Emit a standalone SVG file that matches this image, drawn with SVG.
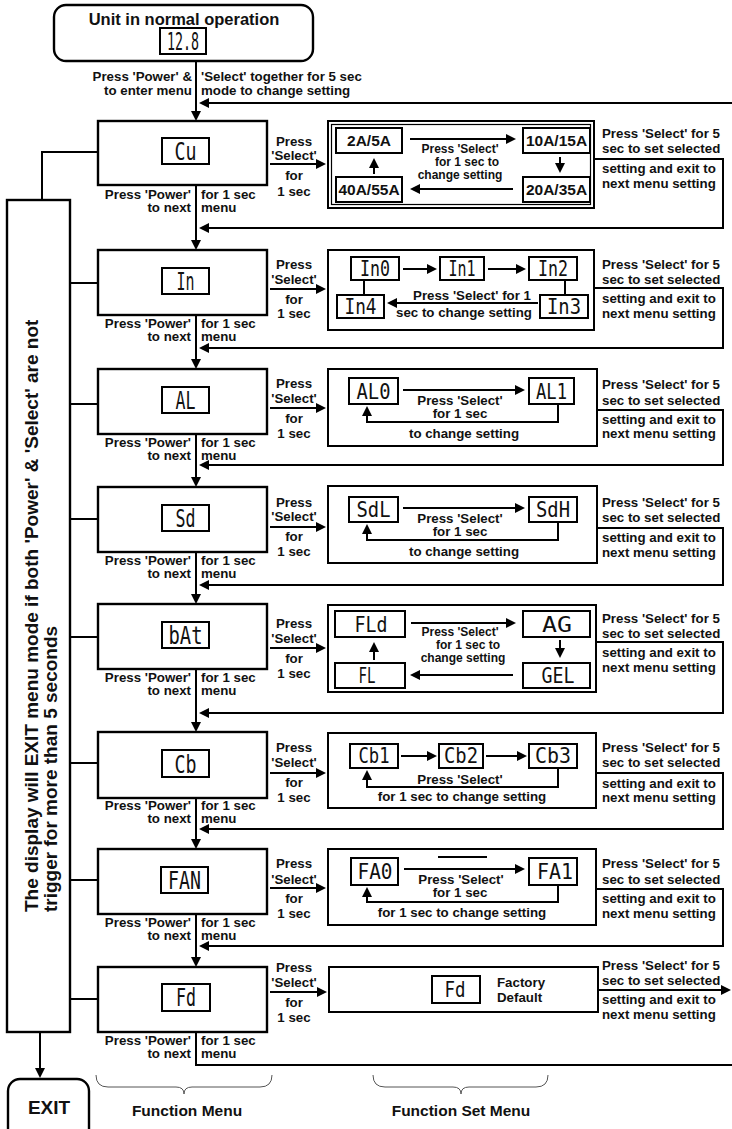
<svg xmlns="http://www.w3.org/2000/svg" width="732" height="1129" viewBox="0 0 732 1129">
<defs>
<marker id="ah" markerWidth="10" markerHeight="10" refX="8" refY="5" orient="auto" markerUnits="userSpaceOnUse"><path d="M0,0 L10,5 L0,10 z" fill="#000"/></marker>
<style>
.bx{fill:#fff;stroke:#000;stroke-width:2.4}
.sb{fill:#fff;stroke:#000;stroke-width:2}
.ib{fill:#fff;stroke:#000;stroke-width:2}
.ln{fill:none;stroke:#000;stroke-width:2}
.thin{fill:none;stroke:#555;stroke-width:1}
.ar{marker-end:url(#ah)}
text{font-family:"Liberation Sans",Arial,sans-serif;font-weight:bold;fill:#111}
.t{font-size:13.3px}
.s{font-size:12px}
.m{text-anchor:middle}
.e{text-anchor:end}
.big{font-size:19px}
.val{font-size:15.5px;text-anchor:middle}
.seg{font-family:"DejaVu Sans Mono",monospace;font-weight:normal;font-size:24px;text-anchor:middle}
.seg2{font-family:"DejaVu Sans Mono",monospace;font-weight:normal;font-size:21px;text-anchor:middle}
</style>
</defs>
<rect width="732" height="1129" fill="#fff"/>

<g id="connectors">
<path class="ln ar" d="M196,61 V119"/>
<path class="ln ar" d="M732,103 H201"/>
<path class="ln ar" d="M196,185 V248"/>
<path class="ln ar" d="M196,315 V367"/>
<path class="ln ar" d="M196,434 V485"/>
<path class="ln ar" d="M196,552 V602"/>
<path class="ln ar" d="M196,669 V730"/>
<path class="ln ar" d="M196,798 V847"/>
<path class="ln ar" d="M196,914 V965"/>
<path class="ln" d="M196,1032 V1065 H732"/>
<path class="ln ar" d="M594,159 H723 V228 H201"/>
<path class="ln ar" d="M594,288 H723 V348 H201"/>
<path class="ln ar" d="M597,410 H723 V465 H201"/>
<path class="ln ar" d="M597,528 H723 V585 H201"/>
<path class="ln ar" d="M596,642 H723 V713 H201"/>
<path class="ln ar" d="M596,773 H723 V829 H201"/>
<path class="ln ar" d="M596,889 H723 V946 H201"/>
<path class="ln ar" d="M598,990 H729"/>
<path class="ln ar" d="M270,164 H324"/>
<path class="ln ar" d="M270,289 H324"/>
<path class="ln ar" d="M270,408 H324"/>
<path class="ln ar" d="M270,527 H324"/>
<path class="ln ar" d="M270,648 H324"/>
<path class="ln ar" d="M270,773 H324"/>
<path class="ln ar" d="M270,888 H324"/>
<path class="ln ar" d="M270,992 H325"/>
<path class="ln" d="M98,152 H42 V200"/>
<path class="ln" d="M70,283 H98 M70,404 H98 M70,519 H98 M70,637 H98 M70,763 H98 M70,880 H98 M70,999 H98"/>
<path class="ln ar" d="M40,1032 V1076"/>
</g>

<g id="start">
<rect x="54" y="5" width="259" height="56" rx="12" class="bx"/>
<text x="184" y="25" class="m" style="font-size:16.5px">Unit in normal operation</text>
<rect x="160" y="28" width="46" height="26" class="ib"/>
<text x="183" y="50" class="seg" textLength="32" lengthAdjust="spacingAndGlyphs">12.8</text>
<text x="192" y="80.5" class="t e">Press 'Power' &amp;</text>
<text x="192" y="94.5" class="t e">to enter menu</text>
<text x="201" y="80.5" class="t">'Select' together for 5 sec</text>
<text x="201" y="94.5" class="t">mode to change setting</text>
</g>

<g id="exit-note">
<rect x="7" y="200" width="63" height="832" class="bx"/>
<text transform="translate(38,912) rotate(-90)" class="big">The display will EXIT menu mode if both 'Power' &amp; 'Select' are not</text>
<text transform="translate(57,912) rotate(-90)" class="big">trigger for more than 5 seconds</text>
</g>

<g id="exit">
<rect x="8" y="1079" width="81" height="70" rx="12" class="bx"/>
<text x="49" y="1114" class="m" style="font-size:19px">EXIT</text>
</g>

<!-- Menu: Cu -->
<g id="menu-cu">
<rect x="98" y="121" width="169" height="64" class="bx"/>
<rect x="162" y="138" width="47" height="26" class="ib"/>
<text x="185.5" y="160" class="seg" textLength="22" lengthAdjust="spacingAndGlyphs">Cu</text>
<text x="191" y="198.5" class="t e">Press 'Power'</text>
<text x="191" y="211.5" class="t e">to next</text>
<text x="201" y="198.5" class="t">for 1 sec</text>
<text x="201" y="211.5" class="t">menu</text>
<text x="294" y="145.5" class="t m">Press</text>
<text x="294" y="159.5" class="t m">'Select'</text>
<text x="294" y="179.5" class="t m">for</text>
<text x="294" y="195.5" class="t m">1 sec</text>
</g>
<g id="set-cu">
<rect x="328" y="121" width="266" height="87" class="sb"/>
<rect x="331.5" y="124.5" width="259" height="80" fill="none" stroke="#000" stroke-width="1.2"/>
<rect x="336" y="128" width="66" height="25" class="ib"/>
<text x="369" y="146" class="val">2A/5A</text>
<rect x="523" y="128" width="67" height="25" class="ib"/>
<text x="556.5" y="146" class="val">10A/15A</text>
<rect x="523" y="177" width="67" height="25" class="ib"/>
<text x="556.5" y="195" class="val">20A/35A</text>
<rect x="336" y="177" width="66" height="25" class="ib"/>
<text x="369" y="195" class="val">40A/55A</text>
<path class="ln ar" d="M410,139 H514"/>
<path class="ln ar" d="M560,157 V171"/>
<path class="ln ar" d="M513,189 H412"/>
<path class="ln ar" d="M374,174 V160"/>
<text x="460" y="152.5" class="s m">Press 'Select'</text>
<text x="467" y="165.5" class="s m">for 1 sec to</text>
<text x="460" y="178.5" class="s m">change setting</text>
<text x="602" y="137.5" class="t">Press 'Select' for 5</text>
<text x="602" y="152.5" class="t">sec to set selected</text>
<text x="602" y="172.5" class="t">setting and exit to</text>
<text x="602" y="187.5" class="t">next menu setting</text>
</g>

<!-- Menu: In -->
<g id="menu-in">
<rect x="98" y="250" width="169" height="65" class="bx"/>
<rect x="162" y="268" width="47" height="26" class="ib"/>
<text x="185.5" y="290" class="seg" textLength="18" lengthAdjust="spacingAndGlyphs">In</text>
<text x="191" y="327.5" class="t e">Press 'Power'</text>
<text x="191" y="340.5" class="t e">to next</text>
<text x="201" y="327.5" class="t">for 1 sec</text>
<text x="201" y="340.5" class="t">menu</text>
<text x="294" y="268.5" class="t m">Press</text>
<text x="294" y="283.5" class="t m">'Select'</text>
<text x="294" y="303.5" class="t m">for</text>
<text x="294" y="317.5" class="t m">1 sec</text>
</g>
<g id="set-in">
<rect x="328" y="250" width="266" height="80" class="sb"/>
<rect x="351" y="257" width="48" height="23" class="ib"/>
<text x="375" y="276" class="seg2" textLength="30" lengthAdjust="spacingAndGlyphs">In0</text>
<rect x="440" y="257" width="44" height="23" class="ib"/>
<text x="462" y="276" class="seg2" textLength="27" lengthAdjust="spacingAndGlyphs">In1</text>
<rect x="529" y="257" width="48" height="23" class="ib"/>
<text x="553" y="276" class="seg2" textLength="30" lengthAdjust="spacingAndGlyphs">In2</text>
<rect x="337" y="295" width="47" height="23" class="ib"/>
<text x="360.5" y="314" class="seg2" textLength="32" lengthAdjust="spacingAndGlyphs">In4</text>
<rect x="540" y="295" width="48" height="23" class="ib"/>
<text x="564" y="314" class="seg2" textLength="34" lengthAdjust="spacingAndGlyphs">In3</text>
<path class="ln" d="M364,280 V295 M565,280 V295"/>
<path class="ln ar" d="M403,269 H435"/>
<path class="ln ar" d="M488,269 H524"/>
<path class="ln ar" d="M538,303 H389"/>
<text x="472" y="300" class="t m">Press 'Select' for 1</text>
<text x="464" y="316.5" class="t m">sec to change setting</text>
<text x="602" y="268.5" class="t">Press 'Select' for 5</text>
<text x="602" y="283.5" class="t">sec to set selected</text>
<text x="602" y="302.5" class="t">setting and exit to</text>
<text x="602" y="317.5" class="t">next menu setting</text>
</g>

<!-- Menu: AL -->
<g id="menu-al">
<rect x="98" y="369" width="169" height="65" class="bx"/>
<rect x="162" y="387" width="47" height="26" class="ib"/>
<text x="185.5" y="409" class="seg" textLength="20" lengthAdjust="spacingAndGlyphs">AL</text>
<text x="191" y="446.5" class="t e">Press 'Power'</text>
<text x="191" y="459.5" class="t e">to next</text>
<text x="201" y="446.5" class="t">for 1 sec</text>
<text x="201" y="459.5" class="t">menu</text>
<text x="294" y="387.5" class="t m">Press</text>
<text x="294" y="402.5" class="t m">'Select'</text>
<text x="294" y="422.5" class="t m">for</text>
<text x="294" y="437.5" class="t m">1 sec</text>
</g>
<g id="set-al">
<rect x="328" y="369" width="269" height="77" class="sb"/>
<rect x="349" y="378" width="49" height="26" class="ib"/>
<text x="373.5" y="399" class="seg2" textLength="34" lengthAdjust="spacingAndGlyphs">AL0</text>
<rect x="529" y="378" width="45" height="26" class="ib"/>
<text x="551.5" y="399" class="seg2" textLength="31" lengthAdjust="spacingAndGlyphs">AL1</text>
<path class="ln ar" d="M403,390 H523"/>
<path class="ln ar" d="M558,404 V422 H367 V408"/>
<text x="460" y="404.5" class="t m">Press 'Select'</text>
<text x="460" y="417.5" class="t m">for 1 sec</text>
<text x="464" y="437.5" class="t m">to change setting</text>
<text x="602" y="388.5" class="t">Press 'Select' for 5</text>
<text x="602" y="404.5" class="t">sec to set selected</text>
<text x="602" y="423.5" class="t">setting and exit to</text>
<text x="602" y="437.5" class="t">next menu setting</text>
</g>

<!-- Menu: Sd -->
<g id="menu-sd">
<rect x="98" y="487" width="169" height="65" class="bx"/>
<rect x="162" y="505" width="47" height="26" class="ib"/>
<text x="185.5" y="527" class="seg" textLength="20" lengthAdjust="spacingAndGlyphs">Sd</text>
<text x="191" y="564.5" class="t e">Press 'Power'</text>
<text x="191" y="577.5" class="t e">to next</text>
<text x="201" y="564.5" class="t">for 1 sec</text>
<text x="201" y="577.5" class="t">menu</text>
<text x="294" y="506.5" class="t m">Press</text>
<text x="294" y="520.5" class="t m">'Select'</text>
<text x="294" y="540.5" class="t m">for</text>
<text x="294" y="555.5" class="t m">1 sec</text>
</g>
<g id="set-sd">
<rect x="328" y="486" width="269" height="77" class="sb"/>
<rect x="349" y="497" width="49" height="25" class="ib"/>
<text x="373.5" y="517" class="seg2" textLength="34" lengthAdjust="spacingAndGlyphs">SdL</text>
<rect x="529" y="497" width="48" height="25" class="ib"/>
<text x="553" y="517" class="seg2" textLength="34" lengthAdjust="spacingAndGlyphs">SdH</text>
<path class="ln ar" d="M403,508 H523"/>
<path class="ln ar" d="M558,522 V540 H367 V526"/>
<text x="460" y="522.5" class="t m">Press 'Select'</text>
<text x="460" y="535.5" class="t m">for 1 sec</text>
<text x="464" y="555.5" class="t m">to change setting</text>
<text x="602" y="506.5" class="t">Press 'Select' for 5</text>
<text x="602" y="521.5" class="t">sec to set selected</text>
<text x="602" y="541.5" class="t">setting and exit to</text>
<text x="602" y="556.5" class="t">next menu setting</text>
</g>

<!-- Menu: bAt -->
<g id="menu-bat">
<rect x="98" y="604" width="169" height="65" class="bx"/>
<rect x="162" y="622" width="47" height="26" class="ib"/>
<text x="185.5" y="644" class="seg" textLength="34" lengthAdjust="spacingAndGlyphs">bAt</text>
<text x="191" y="681.5" class="t e">Press 'Power'</text>
<text x="191" y="694.5" class="t e">to next</text>
<text x="201" y="681.5" class="t">for 1 sec</text>
<text x="201" y="694.5" class="t">menu</text>
<text x="294" y="627.5" class="t m">Press</text>
<text x="294" y="642.5" class="t m">'Select'</text>
<text x="294" y="662.5" class="t m">for</text>
<text x="294" y="677.5" class="t m">1 sec</text>
</g>
<g id="set-bat">
<rect x="328" y="605" width="268" height="87" class="sb"/>
<rect x="335" y="611" width="70" height="26" class="ib"/>
<text x="371" y="632" class="seg2" textLength="33" lengthAdjust="spacingAndGlyphs">FLd</text>
<rect x="523" y="611" width="67" height="26" class="ib"/>
<text x="557" y="632" class="seg2" textLength="30" lengthAdjust="spacingAndGlyphs">AG</text>
<rect x="523" y="663" width="67" height="25" class="ib"/>
<text x="558" y="683" class="seg2" textLength="33" lengthAdjust="spacingAndGlyphs">GEL</text>
<rect x="335" y="663" width="70" height="25" class="ib"/>
<text x="367" y="683" class="seg2" textLength="17" lengthAdjust="spacingAndGlyphs">FL</text>
<path class="ln ar" d="M411,623 H514"/>
<path class="ln ar" d="M560,640 V656"/>
<path class="ln ar" d="M513,675 H412"/>
<path class="ln ar" d="M374,660 V644"/>
<text x="460" y="636" class="s m">Press 'Select'</text>
<text x="468" y="649" class="s m">for 1 sec to</text>
<text x="463" y="662" class="s m">change setting</text>
<text x="602" y="622.5" class="t">Press 'Select' for 5</text>
<text x="602" y="637.5" class="t">sec to set selected</text>
<text x="602" y="656.5" class="t">setting and exit to</text>
<text x="602" y="671.5" class="t">next menu setting</text>
</g>

<!-- Menu: Cb -->
<g id="menu-cb">
<rect x="98" y="732" width="169" height="66" class="bx"/>
<rect x="162" y="750" width="47" height="27" class="ib"/>
<text x="185.5" y="773" class="seg" textLength="22" lengthAdjust="spacingAndGlyphs">Cb</text>
<text x="191" y="809.5" class="t e">Press 'Power'</text>
<text x="191" y="822.5" class="t e">to next</text>
<text x="201" y="809.5" class="t">for 1 sec</text>
<text x="201" y="822.5" class="t">menu</text>
<text x="294" y="751.5" class="t m">Press</text>
<text x="294" y="766.5" class="t m">'Select'</text>
<text x="294" y="786.5" class="t m">for</text>
<text x="294" y="801.5" class="t m">1 sec</text>
</g>
<g id="set-cb">
<rect x="328" y="733" width="268" height="75" class="sb"/>
<rect x="350" y="744" width="48" height="24" class="ib"/>
<text x="374" y="763" class="seg2" textLength="31" lengthAdjust="spacingAndGlyphs">Cb1</text>
<rect x="439" y="744" width="44" height="24" class="ib"/>
<text x="461" y="763" class="seg2" textLength="34" lengthAdjust="spacingAndGlyphs">Cb2</text>
<rect x="529" y="744" width="48" height="24" class="ib"/>
<text x="553" y="763" class="seg2" textLength="36" lengthAdjust="spacingAndGlyphs">Cb3</text>
<path class="ln ar" d="M401,756 H435"/>
<path class="ln ar" d="M486,756 H525"/>
<path class="ln ar" d="M558,768 V787 H367 V772"/>
<text x="460" y="783.5" class="t m">Press 'Select'</text>
<text x="462" y="800.5" class="t m">for 1 sec to change setting</text>
<text x="602" y="751.5" class="t">Press 'Select' for 5</text>
<text x="602" y="766.5" class="t">sec to set selected</text>
<text x="602" y="787.5" class="t">setting and exit to</text>
<text x="602" y="801.5" class="t">next menu setting</text>
</g>

<!-- Menu: FAN -->
<g id="menu-fan">
<rect x="98" y="849" width="169" height="65" class="bx"/>
<rect x="161" y="867" width="47" height="26" class="ib"/>
<text x="184.5" y="889" class="seg" textLength="33" lengthAdjust="spacingAndGlyphs">FAN</text>
<text x="191" y="926.5" class="t e">Press 'Power'</text>
<text x="191" y="939.5" class="t e">to next</text>
<text x="201" y="926.5" class="t">for 1 sec</text>
<text x="201" y="939.5" class="t">menu</text>
<text x="294" y="867.5" class="t m">Press</text>
<text x="294" y="883.5" class="t m">'Select'</text>
<text x="294" y="902.5" class="t m">for</text>
<text x="294" y="917.5" class="t m">1 sec</text>
</g>
<g id="set-fan">
<rect x="328" y="849" width="268" height="76" class="sb"/>
<rect x="351" y="858" width="47" height="27" class="ib"/>
<text x="375" y="879" class="seg2" textLength="35" lengthAdjust="spacingAndGlyphs">FA0</text>
<rect x="529" y="858" width="48" height="27" class="ib"/>
<text x="555" y="879" class="seg2" textLength="36" lengthAdjust="spacingAndGlyphs">FA1</text>
<path class="ln" d="M438,857 H487"/>
<path class="ln ar" d="M404,869 H523"/>
<path class="ln ar" d="M558,885 V902 H367 V889"/>
<text x="461" y="883.5" class="t m">Press 'Select'</text>
<text x="460" y="896.5" class="t m">for 1 sec</text>
<text x="462" y="916.5" class="t m">for 1 sec to change setting</text>
<text x="602" y="867.5" class="t">Press 'Select' for 5</text>
<text x="602" y="883.5" class="t">sec to set selected</text>
<text x="602" y="902.5" class="t">setting and exit to</text>
<text x="602" y="917.5" class="t">next menu setting</text>
</g>

<!-- Menu: Fd -->
<g id="menu-fd">
<rect x="98" y="967" width="169" height="65" class="bx"/>
<rect x="162" y="984" width="48" height="27" class="ib"/>
<text x="186" y="1006" class="seg" textLength="20" lengthAdjust="spacingAndGlyphs">Fd</text>
<text x="191" y="1044.5" class="t e">Press 'Power'</text>
<text x="191" y="1057.5" class="t e">to next</text>
<text x="201" y="1044.5" class="t">for 1 sec</text>
<text x="201" y="1057.5" class="t">menu</text>
<text x="294" y="971.5" class="t m">Press</text>
<text x="294" y="986.5" class="t m">'Select'</text>
<text x="294" y="1006.5" class="t m">for</text>
<text x="294" y="1021.5" class="t m">1 sec</text>
</g>
<g id="set-fd">
<rect x="329" y="967" width="269" height="45" class="sb"/>
<rect x="432" y="976" width="48" height="27" class="ib"/>
<text x="455" y="997" class="seg2" textLength="21" lengthAdjust="spacingAndGlyphs">Fd</text>
<text x="497" y="986.5" class="t">Factory</text>
<text x="497" y="1001.5" class="t">Default</text>
<text x="602" y="969.5" class="t">Press 'Select' for 5</text>
<text x="602" y="984.5" class="t">sec to set selected</text>
<text x="602" y="1003.5" class="t">setting and exit to</text>
<text x="602" y="1018.5" class="t">next menu setting</text>
</g>

<g id="legend">
<path class="thin" d="M96,1075 Q96,1087 108,1087 H176 Q184,1087 184,1094 Q184,1087 192,1087 H260 Q272,1087 272,1075"/>
<text x="187" y="1116" class="m" style="font-size:15.5px">Function Menu</text>
<path class="thin" d="M373,1075 Q373,1087 385,1087 H453 Q461,1087 461,1094 Q461,1087 469,1087 H536 Q548,1087 548,1075"/>
<text x="461" y="1116" class="m" style="font-size:15.5px">Function Set Menu</text>
</g>
</svg>
